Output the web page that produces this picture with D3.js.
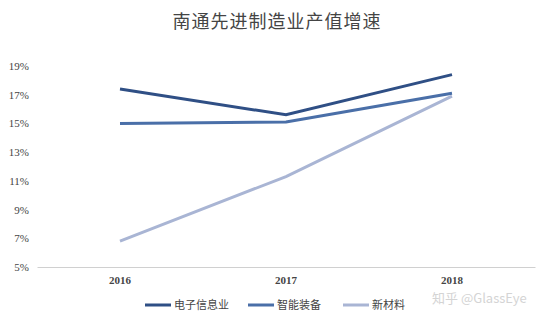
<!DOCTYPE html>
<html><head><meta charset="utf-8">
<script src="https://cdn.jsdelivr.net/npm/d3@7"></script>
<style>body{margin:0;background:#fff}svg{display:block}</style>
</head><body>
<script>
const years = ["2016","2017","2018"];
const seriesNames = ["电子信息业","智能装备","新材料"];
const electronics = [17.4, 15.6, 18.4];
const equipment = [15.0, 15.1, 17.1];
const materials = [6.8, 11.3, 16.9];
const yTicks = [5,7,9,11,13,15,17,19];
const colors = ["#2f4f85","#4a6fa8","#a9b5d4"];
const series = [electronics, equipment, materials];

const W=548,H=323;
const svg=d3.select("body").append("svg").attr("width",W).attr("height",H);
const x=d3.scaleBand().domain(years).range([37,535]);
const y=d3.scaleLinear().domain([5,19]).range([267,66]);
const serif="'Liberation Serif','DejaVu Serif',serif";
const cjk="'Noto Sans CJK SC','Noto Sans CJK JP',sans-serif";

svg.append("text").attr("x",277).attr("y",28).attr("text-anchor","middle")
  .attr("font-family",cjk).attr("font-size",18).attr("fill","#444").attr("letter-spacing",1).text("南通先进制造业产值增速");

const ya=svg.append("g").attr("transform","translate(35,0)")
  .call(d3.axisLeft(y).tickValues(yTicks).tickFormat(d=>d+"%").tickSize(0).tickPadding(6));
ya.select(".domain").remove();
ya.selectAll("text").attr("font-family",serif).attr("font-size",11).attr("fill","#444");

const xa=svg.append("g").attr("transform","translate(0,267)")
  .call(d3.axisBottom(x).tickSize(0).tickPadding(9));
xa.select(".domain").attr("stroke","#d0d0d0");
xa.selectAll("text").attr("font-family",serif).attr("font-size",11).attr("font-weight","bold").attr("fill","#444");

const line=d3.line().x((d,i)=>x(years[i])+x.bandwidth()/2).y(d=>y(d));
series.forEach((s,i)=>{
  svg.append("path").datum(s).attr("d",line).attr("fill","none")
    .attr("stroke",colors[i]).attr("stroke-width",3);
});

const legX=[145,248,343];
seriesNames.forEach((n,i)=>{
  const g=svg.append("g").attr("transform",`translate(${legX[i]},305)`);
  g.append("line").attr("x1",0).attr("x2",26).attr("stroke",colors[i]).attr("stroke-width",3);
  g.append("text").attr("x",29).attr("y",4).attr("font-family",cjk).attr("font-size",11).attr("fill","#444").text(n);
});

svg.append("text").attr("x",432).attr("y",303).attr("font-family",cjk).attr("font-size",13)
  .attr("fill","#d4d4d4").text("知乎 @GlassEye");
</script>
</body></html>
